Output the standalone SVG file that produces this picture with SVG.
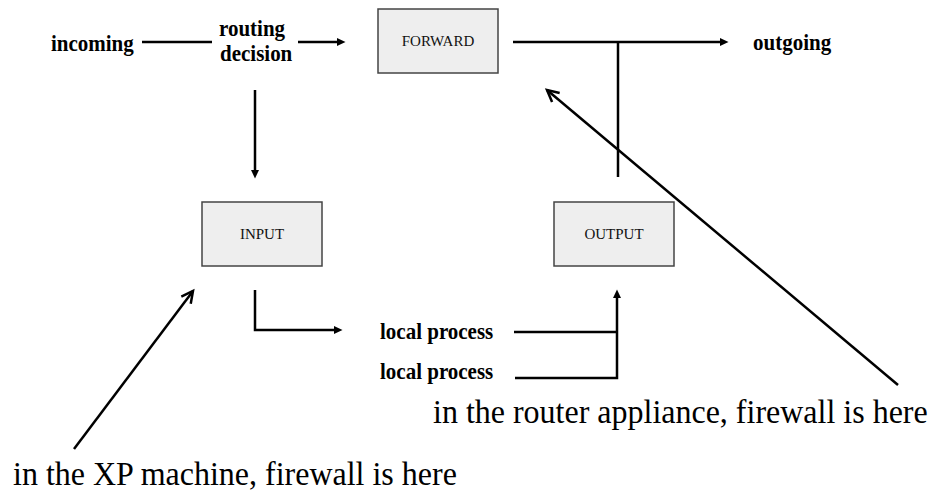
<svg xmlns="http://www.w3.org/2000/svg" width="933" height="491" viewBox="0 0 933 491">
<style>
.lbl{font-family:"Liberation Serif","Times New Roman",serif;font-weight:bold;font-size:21px;fill:#000}
.box{fill:#eeeeee;stroke:#444;stroke-width:1.5}
.bt{font-family:"Liberation Serif","Times New Roman",serif;font-size:15px;fill:#111;text-anchor:middle}
.note{font-family:"Liberation Serif","Times New Roman",serif;font-size:32px;fill:#000}
.ln{fill:none;stroke:#000;stroke-width:2.5}
.fa{marker-end:url(#fill)}
.oa{marker-end:url(#open)}
</style>
<defs>
<marker id="fill" markerUnits="userSpaceOnUse" markerWidth="10" markerHeight="10" refX="0" refY="4" orient="auto" overflow="visible">
<path d="M0,0 L8.5,4 L0,8 z" fill="#000"/>
</marker>
<marker id="open" markerUnits="userSpaceOnUse" markerWidth="16" markerHeight="16" refX="13" refY="6.4" orient="auto" overflow="visible">
<path d="M1.4,0.5 L13,6.4 L1.4,12.3" fill="none" stroke="#000" stroke-width="2.5"/>
</marker>
</defs>

<g id="incoming"><text class="lbl" transform="translate(51,51) scale(1,1.06)">incoming</text></g>
<g id="routing"><text class="lbl" transform="translate(219,36) scale(1,1.06)">routing</text><text class="lbl" transform="translate(220,61) scale(1,1.06)">decision</text></g>
<g id="forward"><rect class="box" x="378" y="9" width="120" height="64"/><text class="bt" x="438" y="46">FORWARD</text></g>
<g id="outgoing"><text class="lbl" transform="translate(753,50) scale(1,1.06)">outgoing</text></g>
<g id="input"><rect class="box" x="202" y="202" width="120" height="64"/><text class="bt" x="262" y="239">INPUT</text></g>
<g id="output"><rect class="box" x="554" y="202" width="120" height="64"/><text class="bt" x="614" y="239">OUTPUT</text></g>
<g id="local1"><text class="lbl" transform="translate(380,339) scale(1,1.06)">local process</text></g>
<g id="local2"><text class="lbl" transform="translate(380,379) scale(1,1.06)">local process</text></g>
<g id="note-xp"><text class="note" transform="translate(13,485) scale(1,1.05)">in the XP machine, firewall is here</text></g>
<g id="note-router"><text class="note" transform="translate(433,423) scale(1,1.05)">in the router appliance, firewall is here</text></g>

<g id="connectors">
<line class="ln" x1="142" y1="42" x2="212" y2="42"/>
<line class="ln fa" x1="298" y1="42" x2="337" y2="42"/>
<line class="ln fa" x1="513" y1="42" x2="720" y2="42"/>
<line class="ln" x1="618" y1="42" x2="618" y2="177"/>
<line class="ln fa" x1="255" y1="90" x2="255" y2="170"/>
<path class="ln fa" d="M255,290 V330 H334"/>
<line class="ln" x1="514" y1="332" x2="617" y2="332"/>
<path class="ln fa" d="M515,378 H617 V298"/>
<line class="ln oa" x1="74" y1="449" x2="193" y2="291"/>
<line class="ln oa" x1="898" y1="385" x2="547" y2="90"/>
</g>
</svg>
